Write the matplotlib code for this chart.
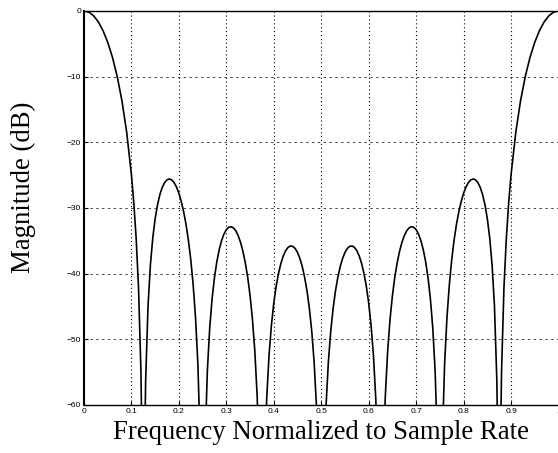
import matplotlib
matplotlib.use("Agg")
import matplotlib.pyplot as plt

# normalized frequency and magnitude (dB)
freq = [0.0, 0.01, 0.02, 0.03, 0.04, 0.05, 0.06, 0.07, 0.08, 0.09, 0.10, 0.105,
        0.11, 0.115, 0.12, 0.1225,
        0.1275, 0.13, 0.135, 0.14, 0.145, 0.15, 0.155, 0.16, 0.165, 0.17, 0.175,
        0.18, 0.185, 0.19, 0.195, 0.20, 0.205, 0.21, 0.215, 0.22, 0.225, 0.23,
        0.235, 0.24, 0.245,
        0.255, 0.26, 0.265, 0.27, 0.275, 0.28, 0.285, 0.29, 0.295, 0.30, 0.305,
        0.31, 0.315, 0.32, 0.325, 0.33, 0.335, 0.34, 0.345, 0.35, 0.355, 0.36,
        0.365, 0.37,
        0.38, 0.385, 0.39, 0.395, 0.40, 0.405, 0.41, 0.415, 0.42, 0.425, 0.43,
        0.435, 0.44, 0.445, 0.45, 0.455, 0.46, 0.465, 0.47, 0.475, 0.48, 0.485,
        0.49, 0.495,
        0.505, 0.51, 0.515, 0.52, 0.525, 0.53, 0.535, 0.54, 0.545, 0.55, 0.555,
        0.56, 0.565, 0.57, 0.575, 0.58, 0.585, 0.59, 0.595, 0.60, 0.605, 0.61,
        0.615, 0.62,
        0.63, 0.635, 0.64, 0.645, 0.65, 0.655, 0.66, 0.665, 0.67, 0.675, 0.68,
        0.685, 0.69, 0.695, 0.70, 0.705, 0.71, 0.715, 0.72, 0.725, 0.73, 0.735,
        0.74, 0.745,
        0.755, 0.76, 0.765, 0.77, 0.775, 0.78, 0.785, 0.79, 0.795, 0.80, 0.805,
        0.81, 0.815, 0.82, 0.825, 0.83, 0.835, 0.84, 0.845, 0.85, 0.855, 0.86,
        0.865, 0.87, 0.8725,
        0.8775, 0.88, 0.885, 0.89, 0.895, 0.90, 0.91, 0.92, 0.93, 0.94, 0.95,
        0.96, 0.97, 0.98, 0.99, 1.0]
mag_db = [0.0, -0.18, -0.73, -1.65, -2.99, -4.77, -7.07, -9.98, -13.69, -18.48, -24.95, -29.23,
          -34.68, -42.23, -54.84, -67.2,
          -67.8, -56.16, -44.87, -38.65, -34.55, -31.64, -29.51, -27.96, -26.86, -26.13, -25.72,
          -25.59, -25.74, -26.15, -26.82, -27.76, -29.00, -30.56, -32.49, -34.88, -37.86, -41.63,
          -46.61, -53.71, -65.9,
          -66.4, -54.81, -48.24, -43.82, -40.60, -38.18, -36.35, -34.97, -33.98, -33.31, -32.95,
          -32.86, -33.04, -33.49, -34.23, -35.26, -36.62, -38.36, -40.56, -43.35, -46.94, -51.75,
          -58.69, -70.7,
          -70.9, -59.14, -52.43, -47.85, -44.48, -41.92, -39.95, -38.44, -37.31, -36.51, -36.01,
          -35.79, -35.85, -36.17, -36.78, -37.69, -38.93, -40.55, -42.63, -45.30, -48.78, -53.46,
          -60.29, -72.2,
          -72.2, -60.29, -53.46, -48.78, -45.30, -42.63, -40.55, -38.93, -37.69, -36.78, -36.17,
          -35.85, -35.79, -36.01, -36.51, -37.31, -38.44, -39.95, -41.92, -44.48, -47.85, -52.43,
          -59.14, -70.9,
          -70.7, -58.69, -51.75, -46.94, -43.35, -40.56, -38.36, -36.62, -35.26, -34.23, -33.49,
          -33.04, -32.86, -32.95, -33.31, -33.98, -34.97, -36.35, -38.18, -40.60, -43.82, -48.24,
          -54.81, -66.4,
          -65.9, -53.71, -46.61, -41.63, -37.86, -34.88, -32.49, -30.56, -29.00, -27.76, -26.82,
          -26.15, -25.74, -25.59, -25.72, -26.13, -26.86, -27.96, -29.51, -31.64, -34.55, -38.65,
          -44.87, -56.16, -67.8,
          -67.2, -54.84, -42.23, -34.68, -29.23, -24.95, -18.48, -13.69, -9.98, -7.07, -4.77,
          -2.99, -1.65, -0.73, -0.18, 0.0]

x_ticks = [0, 0.1, 0.2, 0.3, 0.4, 0.5, 0.6, 0.7, 0.8, 0.9, 1.0]
x_tick_labels = ['0', '0.1', '0.2', '0.3', '0.4', '0.5', '0.6', '0.7', '0.8', '0.9', '1']
y_ticks = [-60, -50, -40, -30, -20, -10, 0]

fig = plt.figure(figsize=(5.58, 4.53), dpi=100)
ax = fig.add_axes([0.1505, 0.106, 0.8504, 0.870])

ax.plot(freq, mag_db, color='black', linewidth=1.2)

ax.set_xlim(0, 1)
ax.set_ylim(-60, 0)
ax.set_xticks(x_ticks)
ax.set_xticklabels(x_tick_labels)
ax.set_yticks(y_ticks)
ax.tick_params(direction='in', length=3, labelsize=6, pad=2)
for lab in ax.get_xticklabels() + ax.get_yticklabels():
    lab.set_family('Liberation Sans')

# grid: dotted verticals, dashed horizontals
for xv in x_ticks[1:-1]:
    ax.axvline(xv, color='black', linestyle=(0, (1, 2.5)), linewidth=0.8, zorder=0)
for yv in y_ticks[1:-1]:
    ax.axhline(yv, color='#444444', linestyle=(0, (2.5, 3.5)), linewidth=0.7, zorder=0)

for sp in ax.spines.values():
    sp.set_linewidth(1.0)
ax.spines['left'].set_linewidth(1.5)

ax.set_xlabel('Frequency Normalized to Sample Rate', family='Liberation Serif',
              fontsize=19.3, va='baseline')
ax.xaxis.set_label_coords(0.5, -0.0863)
ax.set_ylabel('Magnitude (dB)', family='Liberation Serif', fontsize=19.3,
              va='center', ha='center')
ax.yaxis.set_label_coords(-0.1275, 0.552)

fig.savefig('out.png', dpi=100)
